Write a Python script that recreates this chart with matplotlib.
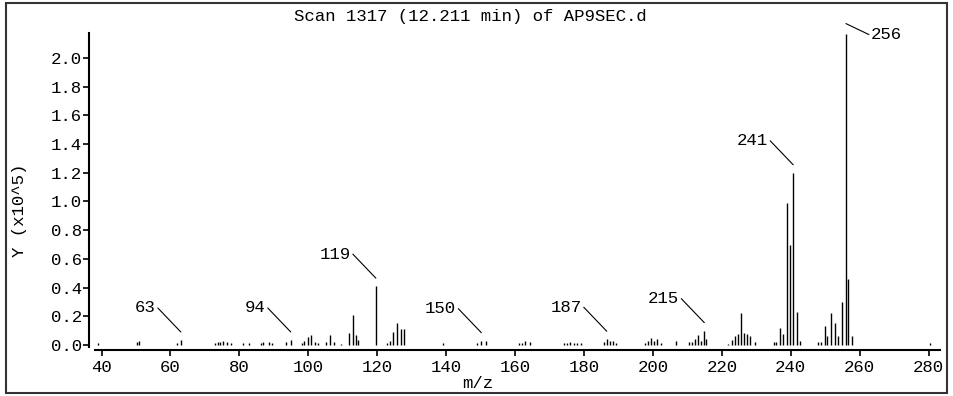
import numpy as np
from matplotlib import pyplot as plt
from matplotlib.patches import Rectangle
from matplotlib.transforms import offset_copy

# spectrum: m/z and abundance (x10^5)
mz = [39.1, 50.3, 50.8, 61.9, 63.0,
      73.0, 73.7, 74.4, 75.2, 76.3, 77.6,
      81.1, 82.7, 86.2, 86.9, 88.6, 89.4, 93.6, 94.9,
      98.1, 98.7, 100.0, 100.7, 101.9, 102.9, 105.2, 106.4, 107.4, 109.6,
      111.7, 112.9, 113.8, 114.4, 119.6,
      122.8, 123.7, 124.7, 125.7, 126.9, 127.9,
      139.1, 149.0, 150.2, 151.6,
      161.0, 162.0, 162.9, 164.4,
      174.1, 175.0, 176.0, 177.0, 178.1, 179.1,
      185.7, 186.6, 187.6, 188.5, 189.4,
      197.6, 198.5, 199.5, 200.3, 201.2, 202.2,
      206.8, 210.6, 211.4, 212.2, 213.0, 214.0, 214.9, 215.4,
      221.7, 222.8, 223.9, 224.8, 225.6, 226.4, 227.4, 228.3, 229.6,
      235.0, 235.6, 236.9, 237.6, 238.9, 239.9, 240.7, 241.7, 242.7,
      247.9, 248.8, 250.0, 250.4, 251.6, 252.7, 253.8, 254.9, 256.0, 256.6, 257.7,
      280.5]
abund = [0.015, 0.02, 0.025, 0.015, 0.035,
         0.015, 0.02, 0.02, 0.025, 0.02, 0.015,
         0.012, 0.012, 0.015, 0.02, 0.02, 0.012, 0.023, 0.035,
         0.015, 0.03, 0.058, 0.07, 0.02, 0.015, 0.02, 0.07, 0.02, 0.005,
         0.085, 0.21, 0.07, 0.035, 0.41,
         0.015, 0.03, 0.093, 0.155, 0.11, 0.11,
         0.013, 0.016, 0.03, 0.03,
         0.015, 0.015, 0.025, 0.02,
         0.015, 0.015, 0.02, 0.015, 0.015, 0.015,
         0.02, 0.04, 0.03, 0.03, 0.015,
         0.012, 0.025, 0.05, 0.03, 0.045, 0.012,
         0.03, 0.018, 0.02, 0.045, 0.07, 0.025, 0.10, 0.045,
         0.01, 0.035, 0.06, 0.08, 0.22, 0.085, 0.08, 0.06, 0.02,
         0.02, 0.02, 0.12, 0.08, 0.99, 0.70, 1.20, 0.23, 0.03,
         0.02, 0.02, 0.13, 0.06, 0.22, 0.155, 0.06, 0.30, 2.17, 0.46, 0.06,
         0.012]

label_mz = [63.0, 94.9, 119.6, 150.2, 186.6, 214.9, 240.7, 256.0]
label_txt = ["63", "94", "119", "150", "187", "215", "241", "256"]

FONT = "Liberation Mono"
FS = 12.5
plt.rcParams['font.family'] = [FONT, "DejaVu Sans Mono"]

W, H = 954, 396
fig = plt.figure(figsize=(W / 100, H / 100), dpi=100)
ax = fig.add_axes([95 / W, 1 - 347 / H, 845 / W, 314 / H])

mz = np.array(mz)
abund = np.array(abund)
ax.vlines(mz, 0, abund, colors="black", lw=1.0)

ax.set_xlim(38.1, 283.3)
ax.set_ylim(-0.014, 2.174)
ax.set_xticks(np.arange(40, 281, 20))
ax.set_yticks(np.arange(0, 2.01, 0.2))
ax.set_yticklabels([f"{v:.1f}" for v in np.arange(0, 2.01, 0.2)])

for s in ["top", "right"]:
    ax.spines[s].set_visible(False)
ax.spines["left"].set_position(("outward", 4.3))
ax.spines["bottom"].set_position(("outward", 2.5))
for s in ["left", "bottom"]:
    ax.spines[s].set_linewidth(1.5)
ax.tick_params(axis="y", length=4.5, width=1.2, pad=0.8, labelsize=FS)
ax.tick_params(axis="x", length=4.5, width=1.2, pad=2.5, labelsize=FS)

# peak labels with leader lines
for lm, txt in zip(label_mz, label_txt):
    h = abund[np.argmin(np.abs(mz - lm))]
    if txt == "256":
        base = offset_copy(ax.transData, fig=fig, x=0, y=10, units="dots")
        ax.annotate("", xy=(lm, h), xycoords=base, xytext=(23, -11),
                    textcoords="offset pixels", annotation_clip=False,
                    arrowprops=dict(arrowstyle="-", lw=0.8, color="black",
                                    shrinkA=0, shrinkB=0))
        ax.annotate(txt, xy=(lm, h), xycoords=base, xytext=(25, -11),
                    textcoords="offset pixels", ha="left", va="center",
                    fontsize=FS, annotation_clip=False)
    else:
        base = offset_copy(ax.transData, fig=fig, x=0, y=8, units="dots")
        ax.annotate("", xy=(lm, h), xycoords=base, xytext=(-23, 24),
                    textcoords="offset pixels", annotation_clip=False,
                    arrowprops=dict(arrowstyle="-", lw=0.8, color="black",
                                    shrinkA=0, shrinkB=0))
        ax.annotate(txt, xy=(lm, h), xycoords=base, xytext=(-25, 24),
                    textcoords="offset pixels", ha="right", va="center",
                    fontsize=FS, annotation_clip=False)

fig.text(470 / W, 1 - 17 / H, "Scan 1317 (12.211 min) of AP9SEC.d",
         ha="center", va="center", fontsize=FS)
fig.text(20 / W, 1 - 210 / H, "Y (x10^5)", rotation=90,
         ha="center", va="center", fontsize=FS)
fig.text(478 / W, 1 - 384 / H, "m/z", ha="center", va="center", fontsize=FS)

fig.add_artist(Rectangle((6 / W, 3 / H), 941 / W, 390 / H,
                         transform=fig.transFigure, fill=False,
                         edgecolor="#333333", lw=1.5))

fig.savefig("out.png", dpi=100)
